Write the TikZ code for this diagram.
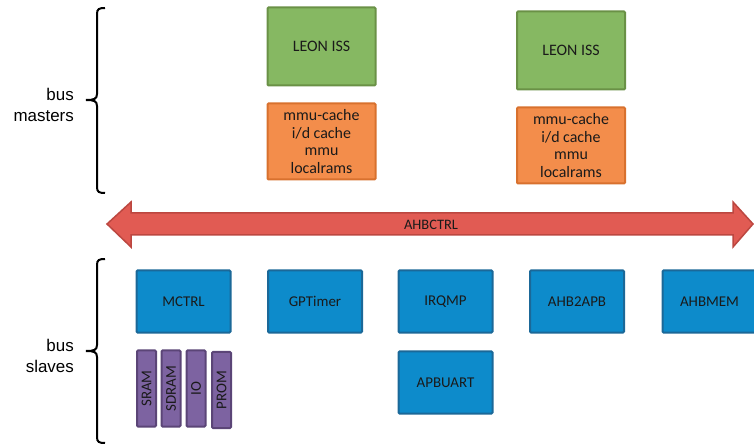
\documentclass[tikz,border=0pt]{standalone}
\usepackage{fontspec}
\setmainfont{Carlito}
\newfontfamily\arialfont{Liberation Sans}
\definecolor{grfill}{HTML}{86B862}
\definecolor{grdraw}{HTML}{6A9146}
\definecolor{orfill}{HTML}{F38D4B}
\definecolor{ordraw}{HTML}{D8712E}
\definecolor{blfill}{HTML}{0D8BCB}
\definecolor{bldraw}{HTML}{1B6898}
\definecolor{pufill}{HTML}{7D63A1}
\definecolor{pudraw}{HTML}{5B4577}
\definecolor{rdfill}{HTML}{E15B53}
\definecolor{rddraw}{HTML}{BC4740}
\definecolor{txt}{HTML}{1A1A1A}
\tikzset{
  box/.style={draw, line width=2bp, rounded corners=1bp, inner sep=0pt, align=center,
    text=txt, font=\fontsize{16}{17.5}\selectfont},
  grbox/.style={box, fill=grfill, draw=grdraw, minimum width=108bp, minimum height=78bp},
  orbox/.style={box, fill=orfill, draw=ordraw, minimum width=108bp, minimum height=76bp},
  blbox/.style={box, fill=blfill, draw=bldraw, minimum width=94bp, minimum height=62bp,
    font=\fontsize{15}{17}\selectfont},
  pubox/.style={box, fill=pufill, draw=pudraw, minimum width=19bp, minimum height=76bp,
    font=\fontsize{15}{17}\selectfont},
  bracepath/.style={line width=2bp, draw=black},
  buslabel/.style={font=\arialfont\fontsize{17}{20.5}\selectfont, align=right, anchor=east, inner sep=0pt}
}
\begin{document}
\begin{tikzpicture}[x=1bp, y=-1bp]
\useasboundingbox (0,0) rectangle (754,444);
% braces
\draw[bracepath] (105,8) .. controls (99,8) and (97,9) .. (97,14) -- (97,94)
  .. controls (97,99) and (94,100) .. (86,100)
  .. controls (94,100) and (97,101) .. (97,106) -- (97,187)
  .. controls (97,192) and (99,193) .. (105,193);
\draw[bracepath] (105,259) .. controls (99,259) and (97,260) .. (97,265) -- (97,345)
  .. controls (97,350) and (94,351) .. (86,351)
  .. controls (94,351) and (97,352) .. (97,357) -- (97,437)
  .. controls (97,442) and (99,443) .. (105,443);
\node[buslabel] (bm) at (74,105) {bus\\masters};
\node[buslabel] (bs) at (74,356) {bus\\slaves};
% masters
\node[grbox] (leon1) at (321.5,46.5) {LEON ISS};
\node[orbox] (mmu1) at (321.5,141.5) {mmu-cache\\i/d cache\\mmu\\localrams};
\node[grbox] (leon2) at (571,50.5) {LEON ISS};
\node[orbox] (mmu2) at (571,145.5) {mmu-cache\\i/d cache\\mmu\\localrams};
% bus arrow
\path[fill=rdfill, draw=rddraw, line width=1.5bp, line join=miter]
  (107,224) -- (131,202) -- (131,213) -- (733,213) -- (733,202) -- (753,224)
  -- (733,247) -- (733,235) -- (131,235) -- (131,247) -- cycle;
\node[text=txt, font=\fontsize{14.5}{17}\selectfont] (ahb) at (431,225) {AHBCTRL};
% slaves
\node[blbox] (mctrl) at (183.5,301.5) {MCTRL};
\node[blbox] (gpt) at (315,301.5) {GPTimer};
\node[blbox] (irq) at (445.5,301.5) {IRQMP};
\node[blbox] (a2p) at (577,301.5) {AHB2APB};
\node[blbox] (amem) at (709.5,301.5) {AHBMEM};
\node[blbox] (uart) at (445.5,382.5) {APBUART};
\node[pubox] (sram) at (146.5,388.5) {\rotatebox{90}{SRAM}};
\node[pubox] (sdram) at (171,388.5) {\rotatebox{90}{SDRAM}};
\node[pubox] (io) at (196,388.5) {\rotatebox{90}{IO}};
\node[pubox] (prom) at (221.5,390) {\rotatebox{90}{PROM}};
\end{tikzpicture}
\end{document}
